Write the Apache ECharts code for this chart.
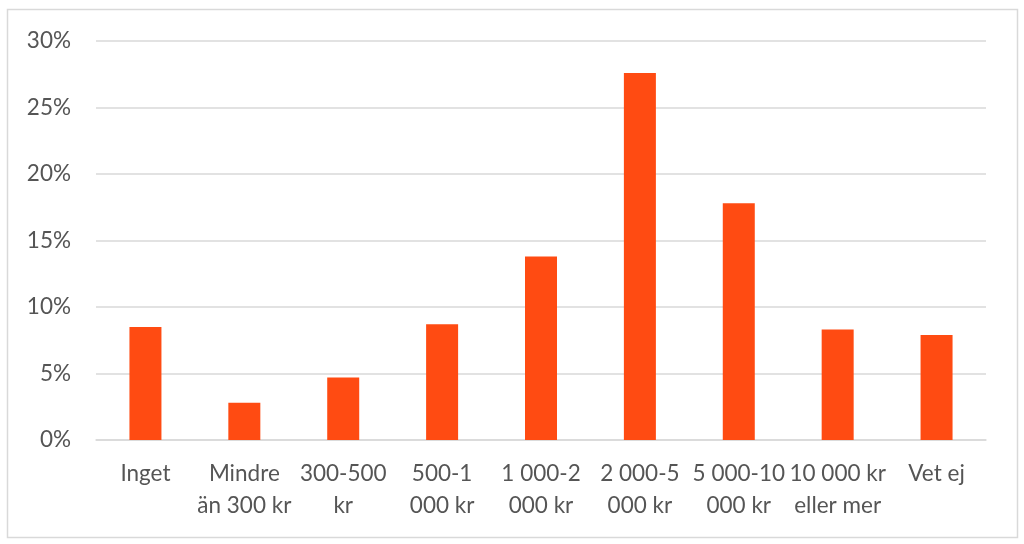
<!DOCTYPE html>
<html>
<head>
<meta charset="utf-8">
<script src="https://cdn.jsdelivr.net/npm/echarts@6/dist/echarts.min.js"></script>
<style>
html,body{margin:0;padding:0;background:#fff;}
#chart{width:1024px;height:544px;}
</style>
</head>
<body>
<div id="chart"></div>
<script>
const categories = ["Inget", "Mindre\nän 300 kr", "300-500\nkr", "500-1\n000 kr", "1 000-2\n000 kr", "2 000-5\n000 kr", "5 000-10\n000 kr", "10 000 kr\neller mer", "Vet ej"];
const values = [8.5, 2.8, 4.7, 8.7, 13.8, 27.6, 17.8, 8.3, 7.9];
const yTicks = [0, 5, 10, 15, 20, 25, 30];

const chart = echarts.init(document.getElementById('chart'));
chart.setOption({
  animation: false,
  backgroundColor: '#fff',
  graphic: [{
    type: 'rect',
    shape: {x: 7.5, y: 9.5, width: 1010, height: 528},
    style: {fill: 'none', stroke: '#d9d9d9', lineWidth: 1.5},
    silent: true
  }],
  grid: {left: 96, right: 38, top: 41, bottom: 104},
  xAxis: {
    type: 'category',
    data: categories,
    axisTick: {show: false},
    axisLine: {lineStyle: {color: '#d9d9d9', width: 1.5}},
    axisLabel: {
      color: '#555555',
      fontFamily: 'Lato, "Open Sans", sans-serif',
      fontSize: 22.5,
      lineHeight: 32,
      margin: 18,
      interval: 0
    }
  },
  yAxis: {
    type: 'value',
    min: yTicks[0],
    max: yTicks[yTicks.length - 1],
    interval: 5,
    axisLine: {show: false},
    axisTick: {show: false},
    splitLine: {lineStyle: {color: '#d9d9d9', width: 1.5}},
    axisLabel: {
      color: '#555555',
      fontFamily: 'Lato, "Open Sans", sans-serif',
      fontSize: 22.5,
      margin: 25,
      formatter: v => v + '%'
    }
  },
  series: [{
    type: 'bar',
    data: values,
    barWidth: 32,
    itemStyle: {color: '#FF4B12'}
  }]
});
</script>
</body>
</html>
